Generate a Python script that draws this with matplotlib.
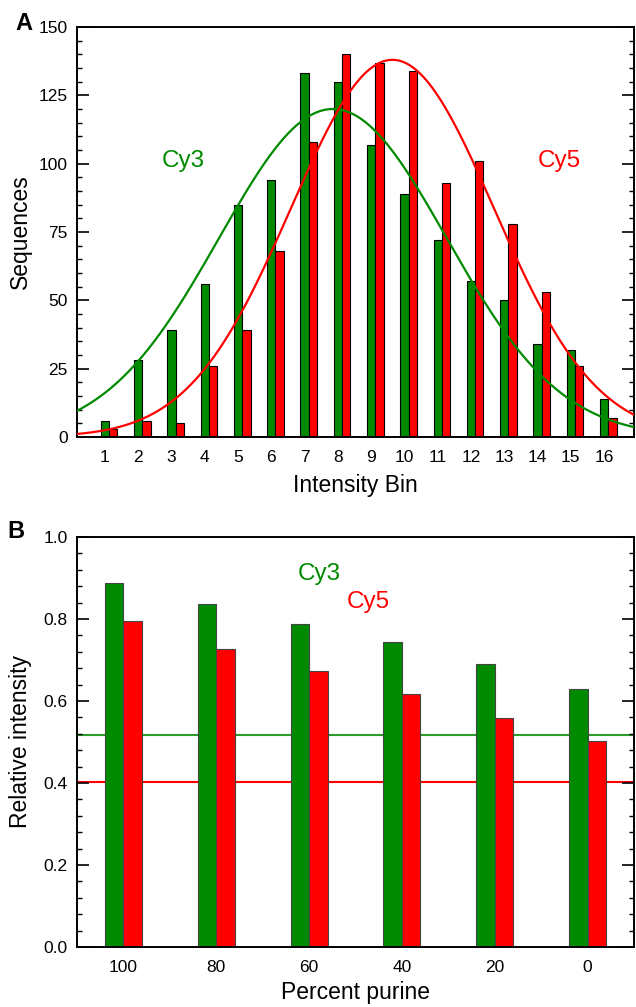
import matplotlib
matplotlib.use("Agg")
import matplotlib.pyplot as plt
import numpy as np
from matplotlib.ticker import MultipleLocator

plt.rcParams['font.family'] = ['Liberation Sans', 'DejaVu Sans']

GREEN = '#008a00'
RED = '#ff0000'

# panel A : histogram of intensity bins
bins = np.arange(1, 17)
cy3_counts = [6, 28, 39, 56, 85, 94, 133, 130, 107, 89, 72, 57, 50, 34, 32, 14]
cy5_counts = [3, 6, 5, 26, 39, 68, 108, 140, 137, 134, 93, 101, 78, 53, 26, 7]
# gaussian fit parameters (amplitude, centre, sigma)
cy3_fit = (120.0, 7.85, 3.42)
cy5_fit = (138.0, 9.64, 3.05)

# panel B : relative intensity vs percent purine
purine = ['100', '80', '60', '40', '20', '0']
cy3_rel = [0.889, 0.836, 0.789, 0.744, 0.690, 0.629]
cy5_rel = [0.795, 0.727, 0.672, 0.616, 0.559, 0.503]
cy3_base = 0.517
cy5_base = 0.403


def gauss(x, p):
    a, mu, s = p
    return a*np.exp(-(x-mu)**2/(2*s**2))


def style_axes(ax):
    for sp in ax.spines.values():
        sp.set_linewidth(1.4)
    ax.tick_params(axis='y', which='both', direction='in', left=True, right=True,
                   labelsize=12.5, pad=6.5, width=1.2)
    ax.tick_params(axis='y', which='major', length=8.5)
    ax.tick_params(axis='y', which='minor', length=3.5, width=1.0)
    ax.tick_params(axis='x', length=0, labelsize=12.5, pad=9)


fig = plt.figure(figsize=(6.36, 10.07), dpi=100)
W, H = 636, 1007

# ---------- A ----------
axA = fig.add_axes([77/W, 1-437/H, 557/W, 410/H])
w = 0.25
axA.bar(bins, cy3_counts, width=w, color=GREEN, edgecolor='black', linewidth=0.8, zorder=2)
axA.bar(bins+w, cy5_counts, width=w, color=RED, edgecolor='black', linewidth=0.8, zorder=2)
xs = np.linspace(0.1, 17, 400)
axA.plot(xs, gauss(xs, cy3_fit), color=GREEN, lw=1.6, zorder=3)
axA.plot(xs, gauss(xs, cy5_fit), color=RED, lw=1.6, zorder=3)
axA.set_xlim(0.16, 16.9)
axA.set_ylim(0, 150)
axA.set_xticks(bins)
axA.yaxis.set_major_locator(MultipleLocator(25))
axA.yaxis.set_minor_locator(MultipleLocator(5))
style_axes(axA)
axA.set_xlabel('Intensity Bin', fontsize=16.5, labelpad=7)
axA.set_ylabel('Sequences', fontsize=16.5, labelpad=5)
axA.text(3.35, 101, 'Cy3', color=GREEN, fontsize=17.5, ha='center', va='center')
axA.text(14.65, 101, 'Cy5', color=RED, fontsize=17.5, ha='center', va='center')
fig.text(24/W, 1-23/H, 'A', fontsize=17, fontweight='bold', ha='center', va='center')

# ---------- B ----------
axB = fig.add_axes([77/W, 1-947/H, 557/W, 410/H])
idx = np.arange(len(purine))
bw = 0.2
axB.bar(idx-bw/2, cy3_rel, width=bw, color=GREEN, edgecolor='#444444', linewidth=0.8, zorder=2)
axB.bar(idx+bw/2, cy5_rel, width=bw, color=RED, edgecolor='#444444', linewidth=0.8, zorder=2)
axB.axhline(cy3_base, color='#2e9a2e', lw=1.5, zorder=1)
axB.axhline(cy5_base, color=RED, lw=1.5, zorder=1)
axB.set_xlim(-0.5, 5.5)
axB.set_ylim(0, 1.0)
axB.set_xticks(idx)
axB.set_xticklabels(purine)
axB.yaxis.set_major_locator(MultipleLocator(0.2))
axB.yaxis.set_minor_locator(MultipleLocator(0.04))
axB.yaxis.set_major_formatter(matplotlib.ticker.FormatStrFormatter('%.1f'))
style_axes(axB)
axB.set_xlabel('Percent purine', fontsize=16.5, labelpad=5)
axB.set_ylabel('Relative intensity', fontsize=16.5, labelpad=8.5)
axB.text(2.107, 0.91, 'Cy3', color=GREEN, fontsize=17.5, ha='center', va='center')
axB.text(2.635, 0.841, 'Cy5', color=RED, fontsize=17.5, ha='center', va='center')
fig.text(16/W, 1-532/H, 'B', fontsize=17, fontweight='bold', ha='center', va='center')

fig.savefig('out.png', dpi=100)
